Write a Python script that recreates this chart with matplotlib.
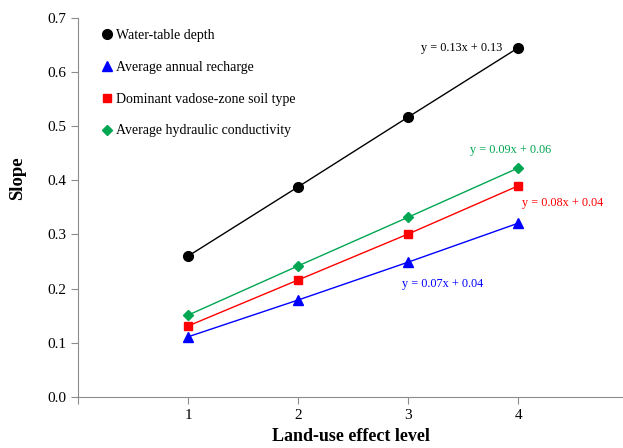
import matplotlib
matplotlib.use("Agg")
import matplotlib.pyplot as plt

levels = [1, 2, 3, 4]
water_table = [0.260, 0.388, 0.517, 0.645]
recharge = [0.111, 0.179, 0.249, 0.321]
soil_type = [0.131, 0.216, 0.301, 0.390]
conductivity = [0.151, 0.242, 0.332, 0.423]

plt.rcParams['font.family'] = ['Liberation Serif', 'DejaVu Serif']

fig = plt.figure(figsize=(6.23, 4.48), dpi=100)
ax = fig.add_axes([0.125, 0.114, 0.875, 0.846])

ax.plot(levels, water_table, color='black', marker='o', markersize=7, lw=1,
        label='Water-table depth')
ax.plot(levels, recharge, color='#0000ff', marker='^', markersize=7, lw=1,
        label='Average annual recharge')
ax.plot(levels, soil_type, color='#ff0000', marker='s', markersize=6, lw=1,
        label='Dominant vadose-zone soil type')
ax.plot(levels, conductivity, color='#00a651', marker='D', markersize=5, lw=1,
        label='Average hydraulic conductivity')

ax.text(3.85, 0.645, 'y = 0.13x + 0.13', color='black', fontsize=8.8, ha='right', va='center')
ax.text(3.93, 0.456, 'y = 0.09x + 0.06', color='#00a651', fontsize=8.8, ha='center', va='center')
ax.text(4.40, 0.358, 'y = 0.08x + 0.04', color='#ff0000', fontsize=8.8, ha='center', va='center')
ax.text(3.31, 0.209, 'y = 0.07x + 0.04', color='#0000ff', fontsize=8.8, ha='center', va='center')

ax.set_xlim(0, 4.95)
ax.set_ylim(0, 0.7)
ax.set_xticks([0, 1, 2, 3, 4])
ax.set_xticklabels(['', '1', '2', '3', '4'])
ax.set_yticks([0.0, 0.1, 0.2, 0.3, 0.4, 0.5, 0.6, 0.7])
ax.set_yticklabels([f'{v:.1f}' for v in ax.get_yticks()])

for side in ['top', 'right']:
    ax.spines[side].set_visible(False)
for side in ['left', 'bottom']:
    ax.spines[side].set_color('#8c8c8c')
ax.tick_params(axis='both', colors='#8c8c8c', labelcolor='black', labelsize=11, length=5)
ax.tick_params(axis='x', pad=4)

ax.set_xlabel('Land-use effect level', fontsize=13, fontweight='bold', labelpad=4)
ax.set_ylabel('Slope', fontsize=13.5, fontweight='bold', va='center')
ax.yaxis.set_label_coords(-0.11, 0.578)

ax.legend(loc='upper left', bbox_to_anchor=(0.036, 0.985), frameon=False, fontsize=10,
          handlelength=0.6, handletextpad=0.3, labelspacing=1.35, borderaxespad=0,
          markerscale=1)
leg = ax.get_legend()
for line in leg.get_lines():
    line.set_linestyle('none')

plt.savefig('out.png', dpi=100)
plt.close()
